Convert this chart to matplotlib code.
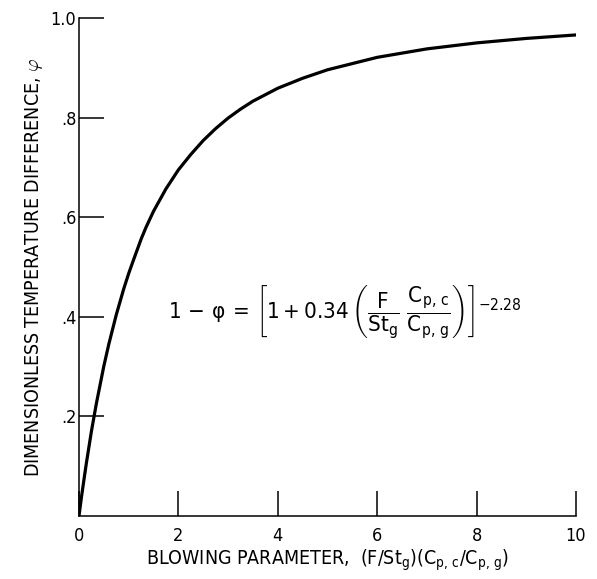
import numpy as np
from matplotlib import pyplot as plt

# values
blowing = [0, 0.05, 0.1, 0.15, 0.25, 0.35, 0.5, 0.6, 0.75, 0.9, 1.0, 1.1,
           1.25, 1.35, 1.5, 1.75, 2.0, 2.25, 2.5, 2.75, 3.0, 3.25, 3.5,
           4.0, 4.5, 5.0, 6.0, 7.0, 8.0, 9.0, 10.0]
phi = [0, 0.038, 0.073, 0.107, 0.17, 0.226, 0.301, 0.345, 0.404, 0.456,
       0.487, 0.515, 0.556, 0.58, 0.612, 0.657, 0.695, 0.726, 0.754,
       0.778, 0.799, 0.817, 0.833, 0.859, 0.879, 0.896, 0.921, 0.938,
       0.950, 0.959, 0.966]

x_ticks = [0, 2, 4, 6, 8, 10]
x_ticklabels = ["0", "2", "4", "6", "8", "10"]
y_ticks = [0.2, 0.4, 0.6, 0.8, 1.0]
y_ticklabels = [".2", ".4", ".6", ".8", "1.0"]

plt.rcParams["font.family"] = ["DejaVu Sans"]
plt.rcParams["font.stretch"] = "condensed"
plt.rcParams["mathtext.fontset"] = "custom"
plt.rcParams["mathtext.rm"] = "DejaVu Sans:stretch=condensed"
plt.rcParams["mathtext.it"] = "DejaVu Sans:stretch=condensed"
plt.rcParams["mathtext.sf"] = "DejaVu Sans:stretch=condensed"

fig = plt.figure(figsize=(5.97, 5.79), dpi=100)
ax = fig.add_axes([0.1323, 0.1088, 0.8325, 0.8601])

ax.plot(blowing, phi, color="black", linewidth=2.3, solid_capstyle="round",
        solid_joinstyle="round")

ax.set_xlim(0, 10)
ax.set_ylim(0, 1.0)
ax.spines["top"].set_visible(False)
ax.spines["right"].set_visible(False)
for side in ("left", "bottom"):
    ax.spines[side].set_linewidth(1.1)

ax.set_xticks(x_ticks)
ax.set_xticklabels(x_ticklabels)
ax.set_yticks(y_ticks)
ax.set_yticklabels(y_ticklabels)
ax.tick_params(axis="both", direction="in", length=18, width=1.1,
               labelsize=13)
ax.tick_params(axis="x", pad=8)
ax.tick_params(axis="y", pad=2)

ax.set_xlabel(r"BLOWING PARAMETER,  (F/St$_\mathrm{g}$)(C$_\mathrm{p,\,c}$/C$_\mathrm{p,\,g}$)",
              fontsize=14, labelpad=2)
ax.set_ylabel(r"DIMENSIONLESS TEMPERATURE DIFFERENCE, $\varphi$",
              fontsize=14, labelpad=4, math_fontfamily="cm")

ax.text(5.35, 0.41,
        r"$\mathrm{1}\,-\,\varphi\,=\,\left[\mathrm{1}+\mathrm{0.34}\,\left(\dfrac{\mathrm{F}}{\mathrm{St_g}}\ \dfrac{\mathrm{C_{p,\,c}}}{\mathrm{C_{p,\,g}}}\right)\right]^{\mathrm{-2.28}}$",
        fontsize=16, ha="center", va="center")

plt.savefig("out.png", dpi=100)
